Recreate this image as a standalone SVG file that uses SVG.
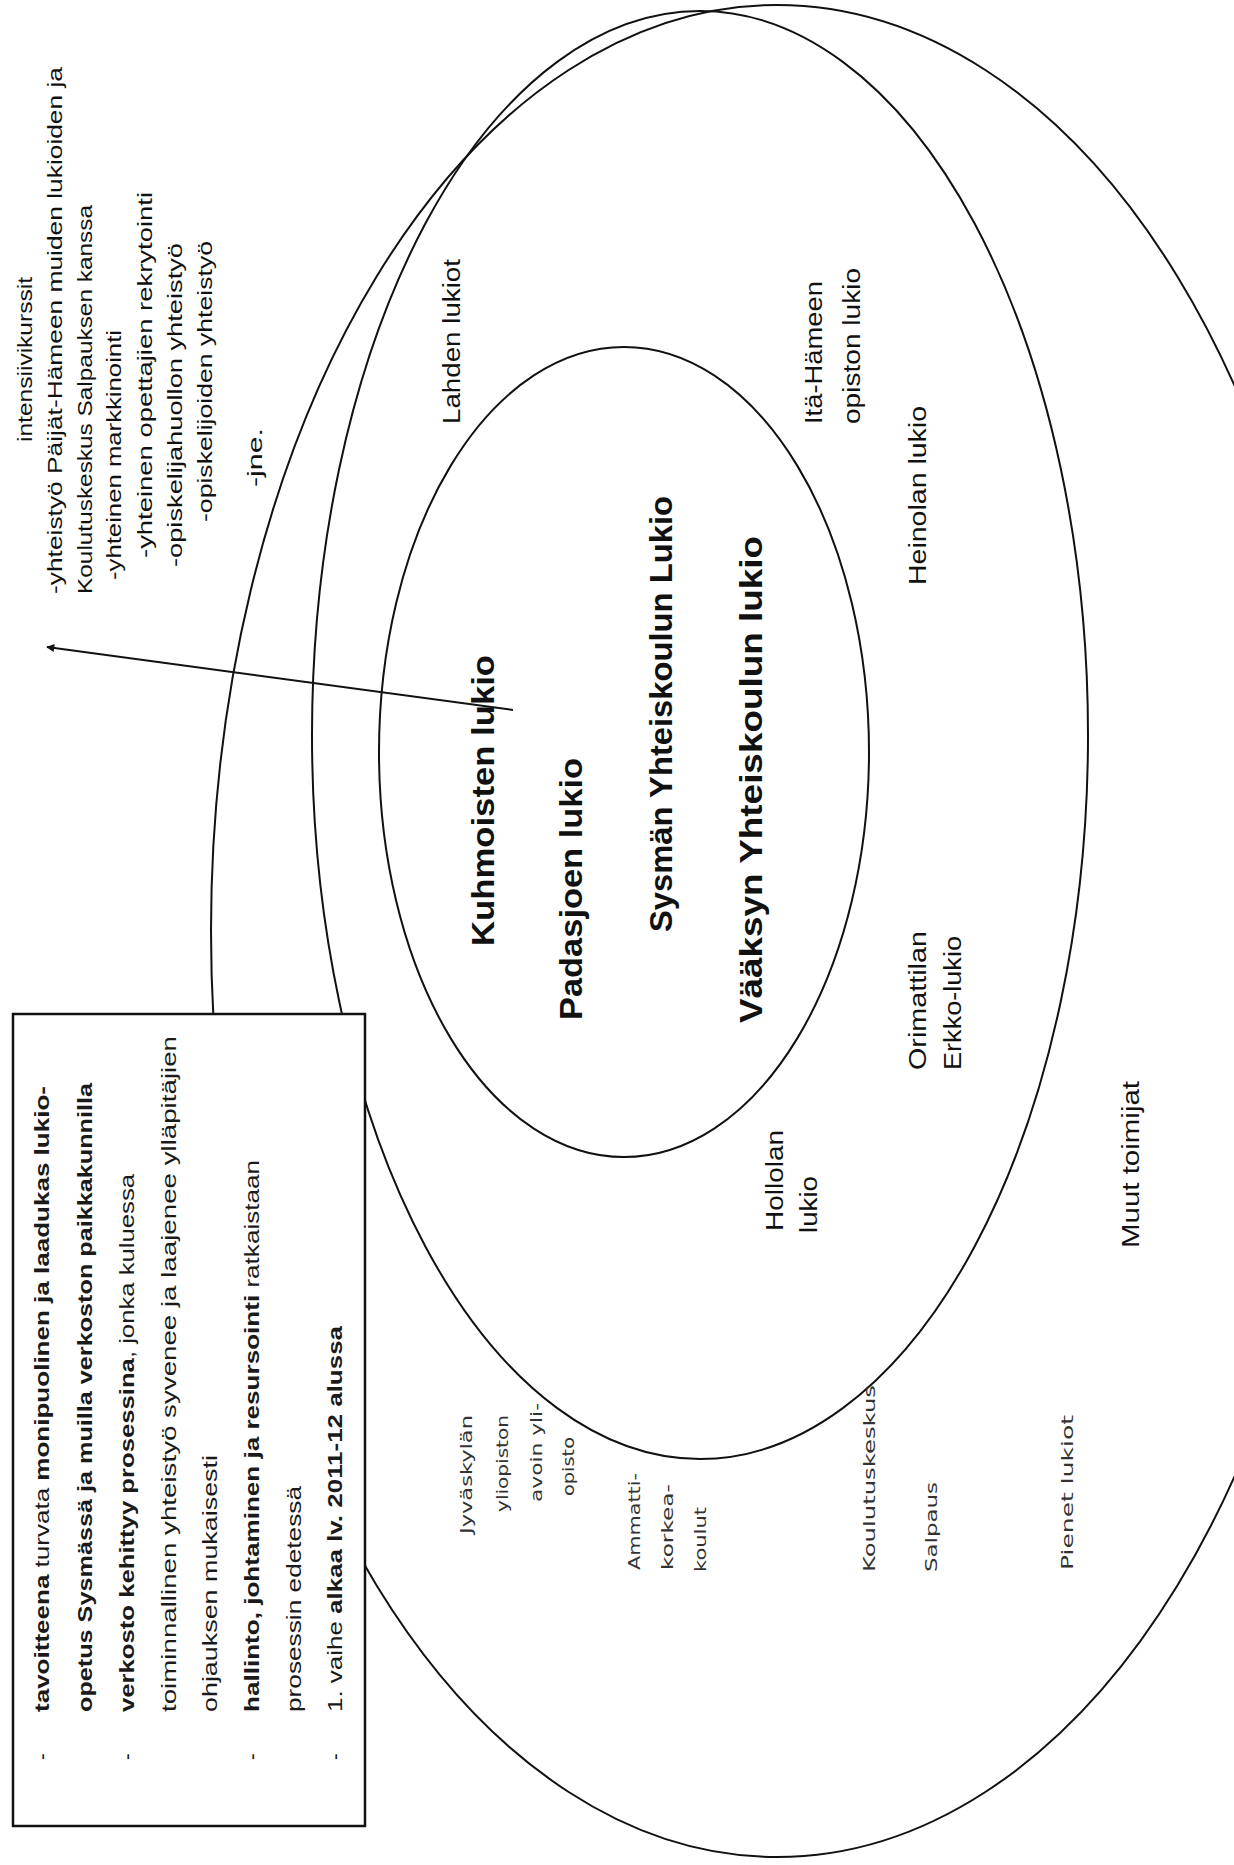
<svg xmlns="http://www.w3.org/2000/svg" width="1234" height="1865" viewBox="0 0 1234 1865">
<style>
.ring{fill:none;stroke:#111;stroke-width:2}
.big{font-family:"Liberation Sans",Arial,sans-serif;font-weight:bold;font-size:32px;fill:#111}
.lbl{font-family:"Liberation Sans",Arial,sans-serif;font-size:23px;fill:#111}
.light{font-family:"DejaVu Sans",Verdana,sans-serif;font-size:16px;fill:#333}
.note{font-family:"Liberation Sans",Arial,sans-serif;font-size:20px;fill:#111}
.btxt{font-family:"Liberation Sans",Arial,sans-serif;font-size:20px;fill:#1a1a1a}
.b{font-weight:bold}
.box{fill:#fff;stroke:#111;stroke-width:2.5}
.conn{stroke:#111;stroke-width:2;fill:none}
</style>
<defs>
<marker id="ah" viewBox="0 0 10 10" refX="9" refY="5" markerWidth="9" markerHeight="8" markerUnits="userSpaceOnUse" orient="auto">
<path d="M0,0 L10,5 L0,10 z" fill="#111"/>
</marker>
</defs>
<rect width="1234" height="1865" fill="#fff"/>

<g id="outer-ring"><ellipse class="ring" cx="777" cy="931" rx="566" ry="926"/></g>
<g id="middle-ring"><ellipse class="ring" cx="700" cy="735" rx="388" ry="724"/></g>
<g id="inner-ring"><ellipse class="ring" cx="624" cy="752" rx="245" ry="405"/></g>

<g id="info-box">
<rect class="box" x="13" y="1014" width="352" height="812"/>
<g class="btxt">
<text transform="translate(49,1760) rotate(-90)">-</text>
<text transform="translate(134,1760) rotate(-90)">-</text>
<text transform="translate(259,1760) rotate(-90)">-</text>
<text transform="translate(342,1760) rotate(-90)">-</text>
<text transform="translate(49,1712) rotate(-90)" textLength="626" lengthAdjust="spacingAndGlyphs"><tspan class="b">tavoitteena</tspan> turvata <tspan class="b">monipuolinen ja laadukas lukio-</tspan></text>
<text class="b" transform="translate(92,1712) rotate(-90)" textLength="629" lengthAdjust="spacingAndGlyphs">opetus Sysmässä ja muilla verkoston paikkakunnilla</text>
<text transform="translate(134,1712) rotate(-90)" textLength="538" lengthAdjust="spacingAndGlyphs"><tspan class="b">verkosto kehittyy prosessina</tspan>, jonka kuluessa</text>
<text transform="translate(176,1712) rotate(-90)" textLength="676" lengthAdjust="spacingAndGlyphs">toiminnallinen yhteistyö syvenee ja laajenee ylläpitäjien</text>
<text transform="translate(217,1712) rotate(-90)" textLength="257" lengthAdjust="spacingAndGlyphs">ohjauksen mukaisesti</text>
<text transform="translate(259,1712) rotate(-90)" textLength="552" lengthAdjust="spacingAndGlyphs"><tspan class="b">hallinto, johtaminen ja resursointi</tspan> ratkaistaan</text>
<text transform="translate(301,1712) rotate(-90)" textLength="226" lengthAdjust="spacingAndGlyphs">prosessin edetessä</text>
<text transform="translate(342,1712) rotate(-90)" textLength="386" lengthAdjust="spacingAndGlyphs">1. vaihe <tspan class="b">alkaa lv. 2011-12 alussa</tspan></text>
</g>
</g>

<g id="annotation" class="note">
<text transform="translate(32,442) rotate(-90)" textLength="165" lengthAdjust="spacingAndGlyphs">intensiivikurssit</text>
<text transform="translate(62,594) rotate(-90)" textLength="527" lengthAdjust="spacingAndGlyphs">-yhteistyö Päijät-Hämeen muiden lukioiden ja</text>
<text transform="translate(92,594) rotate(-90)" textLength="389" lengthAdjust="spacingAndGlyphs">Koulutuskeskus Salpauksen kanssa</text>
<text transform="translate(121,580) rotate(-90)" textLength="250" lengthAdjust="spacingAndGlyphs">-yhteinen markkinointi</text>
<text transform="translate(152,558) rotate(-90)" textLength="366" lengthAdjust="spacingAndGlyphs">-yhteinen opettajien rekrytointi</text>
<text transform="translate(182,567) rotate(-90)" textLength="324" lengthAdjust="spacingAndGlyphs">-opiskelijahuollon yhteistyö</text>
<text transform="translate(212,522) rotate(-90)" textLength="281" lengthAdjust="spacingAndGlyphs">-opiskelijoiden yhteistyö</text>
<text transform="translate(262,487) rotate(-90)" textLength="59" lengthAdjust="spacingAndGlyphs">-jne.</text>
</g>

<g id="core-schools" class="big">
<text id="kuhmoinen" transform="translate(494,946) rotate(-90)" textLength="291" lengthAdjust="spacingAndGlyphs">Kuhmoisten lukio</text>
<text id="padasjoki" transform="translate(582,1020) rotate(-90)" textLength="262" lengthAdjust="spacingAndGlyphs">Padasjoen lukio</text>
<text id="sysma" transform="translate(672,932) rotate(-90)" textLength="436" lengthAdjust="spacingAndGlyphs">Sysmän Yhteiskoulun Lukio</text>
<text id="vaaksy" transform="translate(762,1023) rotate(-90)" textLength="487" lengthAdjust="spacingAndGlyphs">Vääksyn Yhteiskoulun lukio</text>
</g>

<g id="regional-schools" class="lbl">
<text transform="translate(460,424) rotate(-90)" textLength="165" lengthAdjust="spacingAndGlyphs">Lahden lukiot</text>
<text transform="translate(822,424) rotate(-90)" textLength="143" lengthAdjust="spacingAndGlyphs">Itä-Hämeen</text>
<text transform="translate(860,424) rotate(-90)" textLength="156" lengthAdjust="spacingAndGlyphs">opiston lukio</text>
<text transform="translate(926,585) rotate(-90)" textLength="179" lengthAdjust="spacingAndGlyphs">Heinolan lukio</text>
<text transform="translate(926,1070) rotate(-90)" textLength="139" lengthAdjust="spacingAndGlyphs">Orimattilan</text>
<text transform="translate(961,1070) rotate(-90)" textLength="134" lengthAdjust="spacingAndGlyphs">Erkko-lukio</text>
<text transform="translate(783,1231) rotate(-90)" textLength="101" lengthAdjust="spacingAndGlyphs">Hollolan</text>
<text transform="translate(817,1233) rotate(-90)" textLength="57" lengthAdjust="spacingAndGlyphs">lukio</text>
<text transform="translate(1139,1248) rotate(-90)" textLength="167" lengthAdjust="spacingAndGlyphs">Muut toimijat</text>
</g>

<g id="other-actors" class="light">
<text transform="translate(472,1534) rotate(-90)" textLength="119" lengthAdjust="spacingAndGlyphs">Jyväskylän</text>
<text transform="translate(508,1512) rotate(-90)" textLength="97" lengthAdjust="spacingAndGlyphs">yliopiston</text>
<text transform="translate(542,1502) rotate(-90)" textLength="99" lengthAdjust="spacingAndGlyphs">avoin yli-</text>
<text transform="translate(574,1496) rotate(-90)" textLength="59" lengthAdjust="spacingAndGlyphs">opisto</text>
<text transform="translate(640,1570) rotate(-90)" textLength="97" lengthAdjust="spacingAndGlyphs">Ammatti-</text>
<text transform="translate(673,1570) rotate(-90)" textLength="86" lengthAdjust="spacingAndGlyphs">korkea-</text>
<text transform="translate(706,1572) rotate(-90)" textLength="65" lengthAdjust="spacingAndGlyphs">koulut</text>
<text transform="translate(875,1572) rotate(-90)" textLength="187" lengthAdjust="spacingAndGlyphs">Koulutuskeskus</text>
<text transform="translate(937,1572) rotate(-90)" textLength="90" lengthAdjust="spacingAndGlyphs">Salpaus</text>
<text transform="translate(1073,1570) rotate(-90)" textLength="155" lengthAdjust="spacingAndGlyphs">Pienet lukiot</text>
</g>

<g id="connectors">
<line class="conn" x1="513" y1="710" x2="47" y2="647" marker-end="url(#ah)"/>
</g>
</svg>
